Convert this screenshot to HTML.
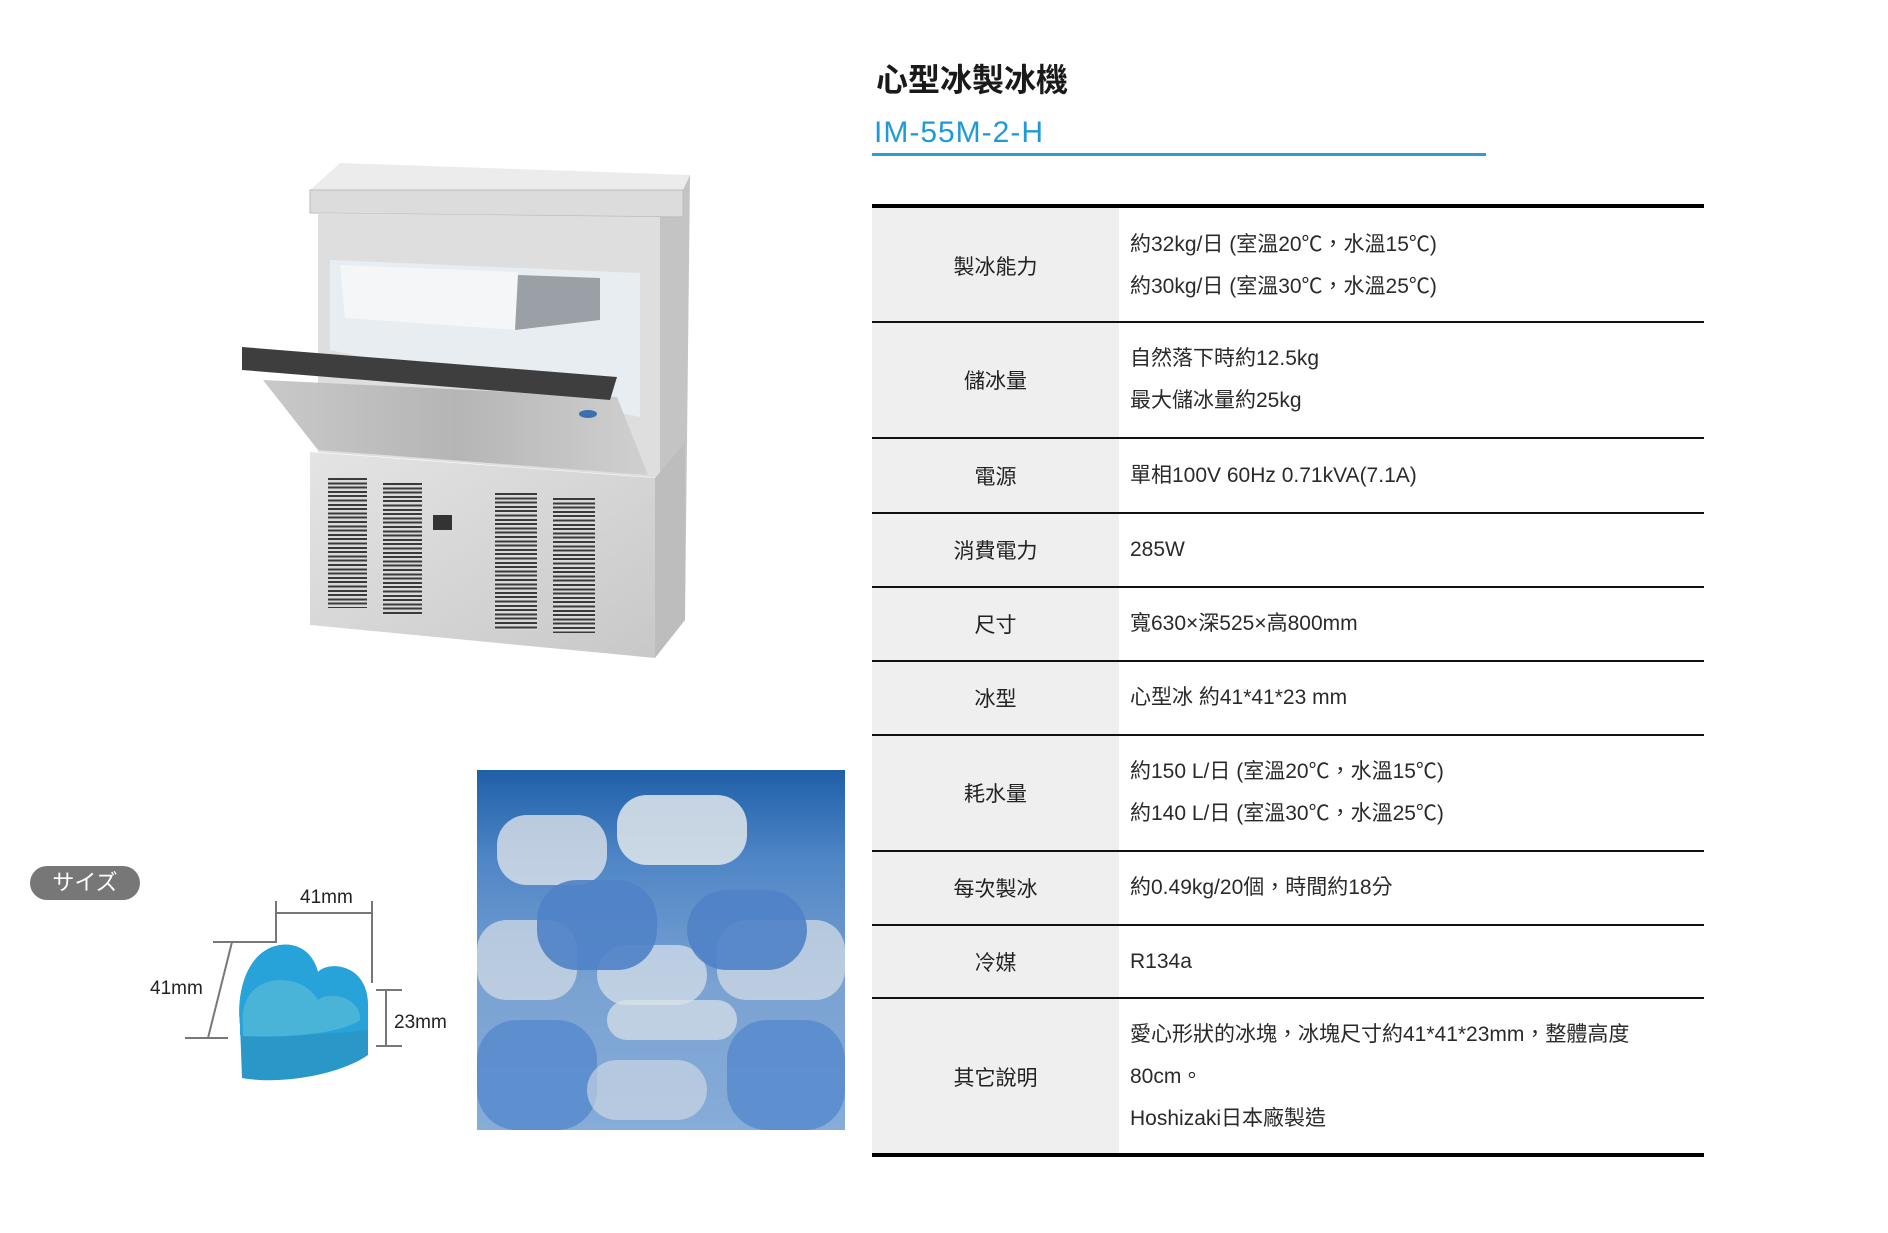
<!DOCTYPE html>
<html><head><meta charset="utf-8">
<style>
body{margin:0;width:1888px;height:1233px;background:#fff;position:relative;overflow:hidden;font-family:"Liberation Sans","Noto Sans CJK TC",sans-serif;}
.abs{position:absolute}
.title{left:876px;top:55px;font-size:32px;font-weight:bold;color:#1a1a1a;}
.model{left:874px;top:116px;font-size:30px;color:#1f9ad8;letter-spacing:1px}
.uline{left:872px;top:153px;width:614px;height:3px;background:#2a9fd6}
.row{position:absolute;left:872px;width:832px;border-top:2px solid #111;}
.row .lab{position:absolute;left:0;top:0;bottom:0;width:247px;background:#efefef;display:flex;align-items:center;justify-content:center;font-size:21px;color:#222}
.row .val{position:absolute;left:258px;top:0;bottom:0;right:0;display:flex;flex-direction:column;justify-content:center;font-size:21px;color:#2a2a2a;line-height:42px}
.vent{position:absolute;background:repeating-linear-gradient(180deg,#3a3a3a 0 2px,#d9d9d9 2px 4.3px)}
</style></head><body>
<div class="abs title">心型冰製冰機</div>
<div class="abs model">IM-55M-2-H</div>
<div class="abs uline"></div>

<div class="row" style="top:204px;height:115px;border-top:4px solid #000"><div class="lab">製冰能力</div><div class="val"><div>約32kg/日 (室溫20℃，水溫15℃)</div><div>約30kg/日 (室溫30℃，水溫25℃)</div></div></div>
<div class="row" style="top:321px;height:114px"><div class="lab">儲冰量</div><div class="val"><div>自然落下時約12.5kg</div><div>最大儲冰量約25kg</div></div></div>
<div class="row" style="top:437px;height:73px"><div class="lab">電源</div><div class="val"><div>單相100V 60Hz 0.71kVA(7.1A)</div></div></div>
<div class="row" style="top:512px;height:72px"><div class="lab">消費電力</div><div class="val"><div>285W</div></div></div>
<div class="row" style="top:586px;height:72px"><div class="lab">尺寸</div><div class="val"><div>寬630×深525×高800mm</div></div></div>
<div class="row" style="top:660px;height:72px"><div class="lab">冰型</div><div class="val"><div>心型冰 約41*41*23 mm</div></div></div>
<div class="row" style="top:734px;height:114px"><div class="lab">耗水量</div><div class="val"><div>約150 L/日 (室溫20℃，水溫15℃)</div><div>約140 L/日 (室溫30℃，水溫25℃)</div></div></div>
<div class="row" style="top:850px;height:72px"><div class="lab">每次製冰</div><div class="val"><div>約0.49kg/20個，時間約18分</div></div></div>
<div class="row" style="top:924px;height:71px"><div class="lab">冷媒</div><div class="val"><div>R134a</div></div></div>
<div class="row" style="top:997px;height:156px"><div class="lab">其它說明</div><div class="val"><div>愛心形狀的冰塊，冰塊尺寸約41*41*23mm，整體高度</div><div>80cm。</div><div>Hoshizaki日本廠製造</div></div></div>
<div class="abs" style="left:872px;top:1153px;width:832px;height:4px;background:#000"></div>

<!-- machine -->
<svg class="abs" style="left:0;top:0" width="860" height="760">
<defs>
<linearGradient id="st" x1="0" x2="1" y1="0" y2="1"><stop offset="0" stop-color="#e4e4e4"/><stop offset="1" stop-color="#c8c8c8"/></linearGradient>
<linearGradient id="dr" x1="0" x2="1" y1="0" y2="0"><stop offset="0" stop-color="#c9c9c9"/><stop offset="0.5" stop-color="#b5b5b5"/><stop offset="1" stop-color="#d0d0d0"/></linearGradient>
</defs>
<polygon points="340,163 690,175 683,190 310,190" fill="#ececec"/>
<polygon points="683,190 690,175 685,620 660,650 660,217 683,217" fill="#c4c4c4"/>
<polygon points="310,190 683,190 683,217 310,213" fill="#dcdcdc" stroke="#bbb"/>
<polygon points="318,213 660,217 660,478 318,452" fill="#dedede"/>
<polygon points="330,260 640,273 640,417 330,350" fill="#e8edf2"/>
<polygon points="340,265 518,272 516,330 345,318" fill="#f4f6f8"/>
<polygon points="518,275 600,278 600,320 515,330" fill="#9aa0a6"/>
<polygon points="263,380 617,397 648,475 318,450" fill="url(#dr)"/>
<polygon points="242,347 617,377 610,400 242,370" fill="#3e3e3e"/>
<ellipse cx="588" cy="414" rx="9" ry="4" fill="#3a6fb0"/>
<polygon points="310,452 655,478 655,658 310,625" fill="url(#st)"/>
<polygon points="655,478 685,443 685,620 655,658" fill="#bdbdbd"/>
<rect x="433" y="515" width="19" height="15" fill="#333"/>
</svg>
<div class="vent" style="left:328px;top:478px;width:39px;height:130px"></div>
<div class="vent" style="left:383px;top:483px;width:39px;height:132px"></div>
<div class="vent" style="left:495px;top:493px;width:42px;height:137px"></div>
<div class="vent" style="left:553px;top:498px;width:42px;height:135px"></div>

<!-- size badge -->
<div class="abs" style="left:30px;top:866px;width:110px;height:34px;border-radius:17px;background:#777;color:#fff;font-size:22px;line-height:34px;text-align:center;font-family:'Liberation Sans','Noto Sans CJK JP',sans-serif">サイズ</div>

<!-- heart diagram -->
<svg class="abs" style="left:0;top:860px" width="470" height="240">
<g stroke="#777" stroke-width="2" fill="none">
<polyline points="213,82 276,82 276,41"/>
<line x1="276" y1="53" x2="372" y2="53"/>
<line x1="372" y1="41" x2="372" y2="123"/>
<line x1="232" y1="82" x2="208" y2="178"/>
<line x1="185" y1="178" x2="228" y2="178"/>
<line x1="386" y1="130" x2="386" y2="186"/>
<line x1="376" y1="130" x2="402" y2="130"/>
<line x1="376" y1="186" x2="402" y2="186"/>
</g>
<path d="M240,165 C236,130 248,90 280,85 C305,82 315,100 318,112 C330,100 368,105 368,145 L368,195 C340,215 280,225 242,218 Z" fill="#2a97c9"/>
<path d="M240,165 C236,130 248,90 280,85 C305,82 315,100 318,112 C330,100 368,105 368,145 L368,170 C330,175 280,175 240,175 Z" fill="#27a3da"/>
<path d="M243,165 C240,140 255,120 280,120 C300,120 312,130 318,140 C330,130 362,138 360,160 C340,175 280,178 243,176 Z" fill="#4ab3d8"/>
<text x="300" y="43" font-size="19" fill="#222" font-family="Liberation Sans">41mm</text>
<text x="150" y="134" font-size="19" fill="#222" font-family="Liberation Sans">41mm</text>
<text x="394" y="168" font-size="19" fill="#222" font-family="Liberation Sans">23mm</text>
</svg>

<!-- ice photo -->
<div class="abs" style="left:477px;top:770px;width:368px;height:360px;overflow:hidden;background:linear-gradient(180deg,#1f5fa8 0%,#4f86c6 25%,#7aa2d2 60%,#86acd8 100%)">
<div class="abs" style="left:140px;top:25px;width:130px;height:70px;border-radius:30px;background:rgba(225,230,235,0.85)"></div>
<div class="abs" style="left:20px;top:45px;width:110px;height:70px;border-radius:30px;background:rgba(220,225,232,0.8)"></div>
<div class="abs" style="left:0px;top:150px;width:100px;height:80px;border-radius:30px;background:rgba(215,222,230,0.7)"></div>
<div class="abs" style="left:240px;top:150px;width:128px;height:80px;border-radius:30px;background:rgba(215,222,230,0.7)"></div>
<div class="abs" style="left:120px;top:175px;width:110px;height:60px;border-radius:30px;background:rgba(220,226,234,0.7)"></div>
<div class="abs" style="left:60px;top:110px;width:120px;height:90px;border-radius:40px;background:rgba(80,130,200,0.9)"></div>
<div class="abs" style="left:210px;top:120px;width:120px;height:80px;border-radius:40px;background:rgba(80,130,200,0.9)"></div>
<div class="abs" style="left:130px;top:230px;width:130px;height:40px;border-radius:20px;background:rgba(220,226,234,0.7)"></div>
<div class="abs" style="left:250px;top:250px;width:118px;height:110px;border-radius:40px;background:rgba(90,140,205,0.9)"></div>
<div class="abs" style="left:0px;top:250px;width:120px;height:110px;border-radius:40px;background:rgba(90,140,205,0.9)"></div>
<div class="abs" style="left:110px;top:290px;width:120px;height:60px;border-radius:30px;background:rgba(215,222,230,0.6)"></div>
</div>
</body></html>
